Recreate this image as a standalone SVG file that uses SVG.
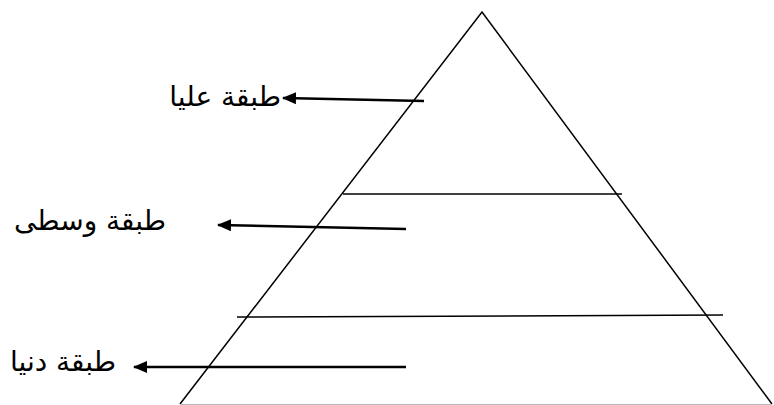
<svg xmlns="http://www.w3.org/2000/svg" width="774" height="405" viewBox="0 0 774 405">
<style>
.edge{stroke:#000;stroke-width:1.5;fill:none}
.arr{stroke:#000;stroke-width:2.6;fill:none;marker-end:url(#ah)}
.lbl{font-family:"DejaVu Sans","Noto Sans",sans-serif;font-size:28px;fill:#000;text-anchor:end}
</style>
<defs>
<marker id="ah" markerWidth="14" markerHeight="12" refX="13" refY="6" orient="auto" markerUnits="userSpaceOnUse">
<path d="M0,0 L14,6 L0,12 Z" fill="#000"/>
</marker>
</defs>
<rect width="774" height="405" fill="#fff"/>
<g id="pyramid">
<path class="edge" d="M180,404 L482,12 L772,404"/>
<line x1="180" y1="404.5" x2="772" y2="404.5" stroke="#bbb" stroke-width="1"/>
<line class="edge" x1="343" y1="194" x2="622" y2="194"/>
<line class="edge" x1="237" y1="317" x2="723" y2="315"/>
</g>
<g id="connectors">
<line class="arr" x1="424" y1="101" x2="283" y2="98"/>
<line class="arr" x1="406" y1="229" x2="218" y2="225"/>
<line class="arr" x1="406" y1="367" x2="134" y2="367"/>
</g>
<g id="label-top"><text class="lbl" x="281" y="106">طبقة عليا</text></g>
<g id="label-middle"><text class="lbl" x="166" y="230">طبقة وسطى</text></g>
<g id="label-bottom"><text class="lbl" x="116" y="371">طبقة دنيا</text></g>
</svg>
